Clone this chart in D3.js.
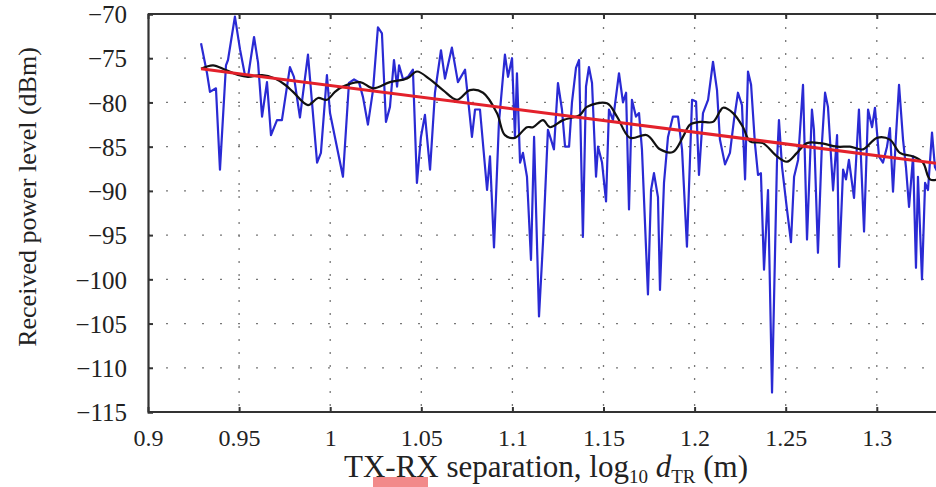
<!DOCTYPE html>
<html><head><meta charset="utf-8">
<script src="https://cdn.jsdelivr.net/npm/d3@7"></script>
<style>
html,body{margin:0;padding:0;background:#fff;overflow:hidden}
text{font-family:"Liberation Serif","DejaVu Serif",serif;fill:#222}
</style></head>
<body><svg id="c" width="936" height="487"></svg>
<script>
const xTicks=[0.9,0.95,1,1.05,1.1,1.15,1.2,1.25,1.3];
const yTicks=[-115,-110,-105,-100,-95,-90,-85,-80,-75,-70];

const measX=[0.9291,0.9324,0.9340,0.9373,0.9395,0.9428,0.9439,0.9477,0.9505,0.9532,0.9549,0.9582,0.9604,0.9626,0.9653,0.9675,0.9708,0.9735,0.9779,0.9801,0.9834,0.9878,0.9928,0.9949,0.9982,0.9999,1.0070,1.0103,1.0131,1.0158,1.0180,1.0207,1.0235,1.0262,1.0284,1.0306,1.0328,1.0350,1.0367,1.0378,1.0400,1.0427,1.0454,1.0476,1.0498,1.0520,1.0548,1.0575,1.0608,1.0630,1.0668,1.0701,1.0740,1.0778,1.0795,1.0822,1.0861,1.0877,1.0899,1.0926,1.0959,1.0976,1.0998,1.1014,1.1025,1.1042,1.1058,1.1080,1.1102,1.1119,1.1146,1.1168,1.1195,1.1212,1.1228,1.1250,1.1272,1.1289,1.1311,1.1327,1.1349,1.1366,1.1387,1.1404,1.1420,1.1437,1.1459,1.1470,1.1492,1.1514,1.1530,1.1552,1.1585,1.1607,1.1624,1.1640,1.1656,1.1678,1.1695,1.1711,1.1744,1.1761,1.1777,1.1799,1.1810,1.1832,1.1854,1.1881,1.1909,1.1931,1.1958,1.1986,1.2008,1.2024,1.2046,1.2074,1.2101,1.2123,1.2139,1.2167,1.2194,1.2216,1.2238,1.2260,1.2277,1.2293,1.2310,1.2331,1.2348,1.2364,1.2381,1.2403,1.2425,1.2452,1.2463,1.2480,1.2507,1.2529,1.2546,1.2568,1.2595,1.2617,1.2644,1.2655,1.2677,1.2699,1.2716,1.2732,1.2760,1.2782,1.2793,1.2815,1.2831,1.2847,1.2875,1.2902,1.2930,1.2952,1.2974,1.2990,1.3012,1.3034,1.3056,1.3072,1.3089,1.3105,1.3122,1.3144,1.3160,1.3177,1.3199,1.3215,1.3226,1.3248,1.3265,1.3281,1.3303,1.3319,1.3336];
const measY=[-73.3,-76.7,-78.8,-78.4,-87.6,-75.8,-75.2,-70.3,-74,-76.9,-77.1,-72.6,-75.5,-81.6,-77.7,-83.7,-82,-82,-76,-77.1,-81.7,-74.6,-86.8,-85.7,-76.9,-81.2,-88.4,-77.8,-77.4,-77.7,-79.4,-82.5,-78.6,-71.5,-72.2,-82.2,-80.5,-75.2,-78.2,-75.8,-77.4,-77.1,-76.3,-89.1,-83.9,-81.4,-87.6,-78.9,-74.1,-77.3,-73.8,-77.7,-76.3,-83.9,-80.8,-80.8,-89.9,-86.1,-96.4,-82.3,-74.6,-77.1,-75,-83.9,-76.7,-86.8,-85.7,-88.4,-97.8,-83.9,-104.2,-95.8,-83.1,-84.2,-85.3,-77.8,-80.8,-85,-85,-80,-76.1,-75.2,-95.2,-78.2,-76,-77.8,-88.4,-85,-86.8,-91.2,-80.8,-82,-76.7,-80,-78.9,-92.1,-79.7,-81.6,-81.2,-85.3,-101.7,-89.9,-88,-90.7,-101.2,-89.1,-83.9,-81.6,-81.6,-85.3,-96.3,-79.7,-79.9,-88.2,-81.2,-79.7,-75.4,-78.6,-84.2,-87,-85.7,-82,-78.9,-80.3,-88.7,-76.5,-78,-84.6,-88.2,-88,-98.9,-89.9,-112.8,-86.8,-82,-87.3,-92.1,-95.8,-88.4,-86.5,-78,-95.5,-80.8,-83.1,-97,-84.6,-78.9,-80.5,-89.9,-83.7,-98.6,-87.6,-88.7,-86.5,-90.8,-80.8,-94.6,-80.8,-82.8,-80.6,-86.1,-86.8,-85,-82.9,-90.1,-83.9,-78,-84.2,-87.3,-91.8,-86.1,-98.7,-88.4,-100,-89.1,-89.9,-83.4,-87.3,-88];

const avgX=[0.9291,0.9357,0.9423,0.9494,0.9549,0.9626,0.9697,0.9752,0.9796,0.9878,0.9933,0.9982,1.0026,1.0070,1.0164,1.0235,1.0328,1.0422,1.0476,1.0548,1.0619,1.0696,1.0767,1.0839,1.0915,1.0959,1.1014,1.1080,1.1113,1.1168,1.1206,1.1278,1.1371,1.1409,1.1519,1.1574,1.1645,1.1739,1.1810,1.1881,1.1936,1.1975,1.2030,1.2101,1.2139,1.2156,1.2211,1.2266,1.2304,1.2375,1.2452,1.2507,1.2562,1.2617,1.2688,1.2782,1.2853,1.2924,1.3001,1.3072,1.3127,1.3199,1.3253,1.3292,1.3336];
const avgY=[-76.2,-75.8,-76.3,-76.9,-77.1,-76.9,-77.3,-78.0,-78.8,-80.3,-79.5,-79.7,-78.8,-78.2,-77.7,-78.4,-77.7,-77.3,-76.5,-77.4,-78.6,-79.7,-78.6,-78.9,-81.2,-83.7,-84.0,-82.8,-82.8,-82.0,-82.8,-82.0,-81.4,-80.5,-80.1,-81.6,-84.0,-83.7,-85.3,-85.6,-83.9,-82.5,-82.2,-82.2,-81.0,-80.6,-81.2,-82.8,-84.4,-84.6,-86.1,-86.7,-85.7,-84.6,-84.6,-85.0,-85.0,-85.3,-84.0,-84.2,-85.7,-86.1,-86.8,-88.7,-88.7];

const fitX=[0.9291,1.3336];
const fitY=[-76.2,-86.9];

const svg=d3.select("#c");
const L=148, T=14, B=412;
const x=d3.scaleLinear().domain([0.9,1.35]).range([L,L+0.45*1822]);
const y=d3.scaleLinear().domain([-115,-70]).range([B,T]);

// grid
const g=svg.append("g");
g.selectAll(".hg").data(yTicks.filter(v=>v>-115&&v<-70)).enter().append("line")
 .attr("x1",L).attr("x2",960).attr("y1",d=>y(d)).attr("y2",d=>y(d))
 .attr("stroke","#777").attr("stroke-width",1.3).attr("stroke-dasharray","2,16");
g.selectAll(".vg").data(xTicks.filter(v=>v>0.9)).enter().append("line")
 .attr("x1",d=>x(d)).attr("x2",d=>x(d)).attr("y1",T).attr("y2",B)
 .attr("stroke","#777").attr("stroke-width",1.3).attr("stroke-dasharray","2,11");

// series
svg.append("clipPath").attr("id","pc").append("rect").attr("x",L).attr("y",T).attr("width",900).attr("height",B-T);
const lines=svg.append("g").attr("clip-path","url(#pc)");
const lg=d3.line().x(d=>x(d[0])).y(d=>y(d[1]));
lines.append("path").datum(measX.map((v,i)=>[v,measY[i]])).attr("d",lg)
 .attr("fill","none").attr("stroke","#2a2ad4").attr("stroke-width",2.2).attr("stroke-linejoin","round");
lines.append("path").datum(avgX.map((v,i)=>[v,avgY[i]])).attr("d",d3.line().curve(d3.curveCatmullRom).x(d=>x(d[0])).y(d=>y(d[1])))
 .attr("fill","none").attr("stroke","#111").attr("stroke-width",2.2);
lines.append("path").datum(fitX.map((v,i)=>[v,fitY[i]])).attr("d",lg)
 .attr("fill","none").attr("stroke","#e3212b").attr("stroke-width",3);

// axes
const xa=svg.append("g").attr("transform",`translate(0,${B})`)
 .call(d3.axisBottom(x).tickValues(xTicks).tickSize(-5).tickPadding(17).tickFormat(d3.format("~g")));
const xt=svg.append("g").attr("transform",`translate(0,${T})`)
 .call(d3.axisTop(x).tickValues(xTicks).tickSize(-5).tickFormat(""));
const ya=svg.append("g").attr("transform",`translate(${L},0)`)
 .call(d3.axisLeft(y).tickValues(yTicks).tickSize(-5).tickPadding(21));
[xa,xt,ya].forEach(a=>{
  a.select(".domain").attr("stroke","#333").attr("stroke-width",2.2);
  a.selectAll(".tick line").attr("stroke","#333").attr("stroke-width",2);
  a.selectAll("text").attr("font-family","Liberation Serif").attr("font-size",24).attr("fill","#222");
});
ya.selectAll("text").attr("font-size",25).attr("dy","0.35em");
xt.select(".domain").attr("d",`M${L},0H940`);
xa.select(".domain").attr("d",`M${L},0H940`);

// titles
svg.append("text").attr("x",546).attr("y",477).attr("text-anchor","middle").attr("font-size",31)
 .html('TX-RX separation, log<tspan font-size="19" dy="6">10</tspan><tspan dy="-6"> </tspan><tspan font-style="italic">d</tspan><tspan font-size="19" dy="6">TR</tspan><tspan dy="-6"> (m)</tspan>');
svg.append("text").attr("transform","translate(36,197) rotate(-90)").attr("text-anchor","middle").attr("font-size",26)
 .text("Received power level (dBm)");
svg.append("rect").attr("x",373).attr("y",477).attr("width",55).attr("height",10).attr("fill","#f28a8a");
</script></body></html>
